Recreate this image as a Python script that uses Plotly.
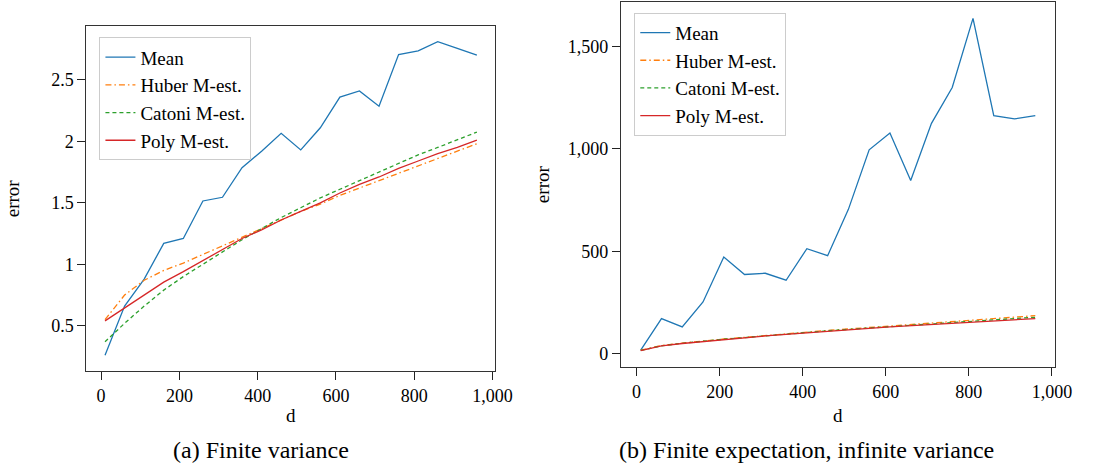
import plotly.graph_objects as go

d = [10, 60, 110, 160, 210, 260, 310, 360, 410, 460, 510, 560, 610, 660, 710, 760, 810, 860, 910, 960]

# (a) Finite variance
a_mean = [0.26, 0.66, 0.88, 1.17, 1.21, 1.515, 1.545, 1.785, 1.92, 2.065, 1.93, 2.11, 2.36, 2.41, 2.285, 2.705, 2.735, 2.81, 2.755, 2.70]
a_huber = [0.55, 0.75, 0.87, 0.95, 1.01, 1.08, 1.15, 1.22, 1.29, 1.36, 1.43, 1.49, 1.56, 1.62, 1.68, 1.74, 1.80, 1.86, 1.92, 1.98]
a_catoni = [0.37, 0.52, 0.66, 0.79, 0.90, 1.00, 1.10, 1.20, 1.29, 1.38, 1.46, 1.54, 1.61, 1.68, 1.75, 1.82, 1.89, 1.95, 2.01, 2.075]
a_poly = [0.54, 0.645, 0.75, 0.855, 0.94, 1.03, 1.12, 1.21, 1.28, 1.36, 1.43, 1.50, 1.58, 1.65, 1.71, 1.78, 1.84, 1.90, 1.95, 2.01]

# (b) Finite expectation, infinite variance
b_mean = [18, 172, 131, 253, 472, 387, 393, 359, 513, 479, 705, 996, 1078, 846, 1125, 1300, 1638, 1163, 1147, 1163]
b_huber = [18, 40, 52, 63, 72, 80, 89, 97, 106, 114, 121, 128, 136, 143, 150, 157, 164, 171, 178, 186]
b_catoni = [16, 39, 51, 62, 71, 79, 88, 96, 104, 112, 119, 126, 133, 140, 147, 153, 160, 166, 172, 178]
b_poly = [15, 38, 50, 60, 70, 78, 87, 95, 103, 110, 117, 124, 131, 137, 143, 149, 155, 161, 167, 172]

names = ["Mean", "Huber M-est.", "Catoni M-est.", "Poly M-est."]
colors = ["#1f77b4", "#ff7f0e", "#2ca02c", "#d62728"]
dashes = ["solid", "6px,3px,1.5px,3px", "4px,3px", "solid"]

x_ticks = [0, 200, 400, 600, 800, 1000]
a_yticks = [0.5, 1, 1.5, 2, 2.5]
a_yticktext = ["0.5", "1", "1.5", "2", "2.5"]
b_yticks = [0, 500, 1000, 1500]

FONT = "Liberation Serif, DejaVu Serif, serif"
W, H = 1093, 467

fig = go.Figure()

for series, lg, xa, ya in [
    ([a_mean, a_huber, a_catoni, a_poly], "legend", "x", "y"),
    ([b_mean, b_huber, b_catoni, b_poly], "legend2", "x2", "y2"),
]:
    for vals, name, col, dash in zip(series, names, colors, dashes):
        fig.add_trace(go.Scatter(
            x=d, y=vals, mode="lines", name=name,
            line=dict(color=col, width=1.3, dash=dash),
            xaxis=xa, yaxis=ya, legend=lg,
        ))

def enlarge(vals_list):
    lo = min(min(v) for v in vals_list)
    hi = max(max(v) for v in vals_list)
    pad = 0.05 * (hi - lo)
    return [lo - pad, hi + pad]

xr = enlarge([d])
a_yr = enlarge([a_mean, a_huber, a_catoni, a_poly])
b_yr = enlarge([b_mean, b_huber, b_catoni, b_poly])

axis_common = dict(
    showline=True, linecolor="#333", linewidth=1.2, mirror=True,
    ticks="outside", ticklen=8, tickcolor="#222", tickwidth=1,
    showgrid=False, zeroline=False,
    tickfont=dict(family=FONT, size=18, color="black"),
)

fig.update_layout(
    width=W, height=H, autosize=False,
    margin=dict(l=0, r=0, t=0, b=0),
    paper_bgcolor="white", plot_bgcolor="white",
    font=dict(family=FONT, size=18, color="black"),
    xaxis=dict(domain=[87.8 / W, 503.3 / W], anchor="y", range=xr, tickvals=x_ticks, tickformat=",d", **axis_common),
    yaxis=dict(domain=[1 - 371 / H, 1 - 26 / H], anchor="x", range=a_yr, tickvals=a_yticks, ticktext=a_yticktext, **axis_common),
    xaxis2=dict(domain=[630.8 / W, 1071.7 / W], anchor="y2", range=xr, tickvals=x_ticks, tickformat=",d", **axis_common),
    yaxis2=dict(domain=[1 - 367.3 / H, 1 - 1.7 / H], anchor="x2", range=b_yr, tickvals=b_yticks, tickformat=",d", **axis_common),
    legend=dict(x=101 / W, y=1 - 37.3 / H, xanchor="left", yanchor="top",
                bgcolor="white", bordercolor="#cccccc", borderwidth=1,
                font=dict(family=FONT, size=19, color="black"), tracegroupgap=0),
    legend2=dict(x=644.3 / W, y=1 - 12.7 / H, xanchor="left", yanchor="top",
                 bgcolor="white", bordercolor="#cccccc", borderwidth=1,
                 font=dict(family=FONT, size=19, color="black"), tracegroupgap=0),
    showlegend=True,
)

ann = [
    dict(text="d", x=295.5, y=415, size=19, angle=0),
    dict(text="d", x=851.0, y=415, size=19, angle=0),
    dict(text="error", x=12.5, y=198, size=19, angle=-90),
    dict(text="error", x=551.2, y=184.5, size=19, angle=-90),
    dict(text="(a) Finite variance", x=265.3, y=450, size=24, angle=0),
    dict(text="(b) Finite expectation, infinite variance", x=819.5, y=450, size=24, angle=0),
]
for a in ann:
    fig.add_annotation(
        text=a["text"], x=a["x"] / W, y=1 - a["y"] / H, xref="paper", yref="paper",
        xanchor="center", yanchor="middle", showarrow=False, textangle=a["angle"],
        font=dict(family=FONT, size=a["size"], color="black"),
    )

fig.write_html(
    "out.html",
    config={"displayModeBar": False, "responsive": False},
    post_script=(
        "document.documentElement.style.overflow='hidden';"
        "document.body.style.overflow='hidden';"
        "document.body.style.margin='0';document.body.style.padding='0';"
    ),
)
